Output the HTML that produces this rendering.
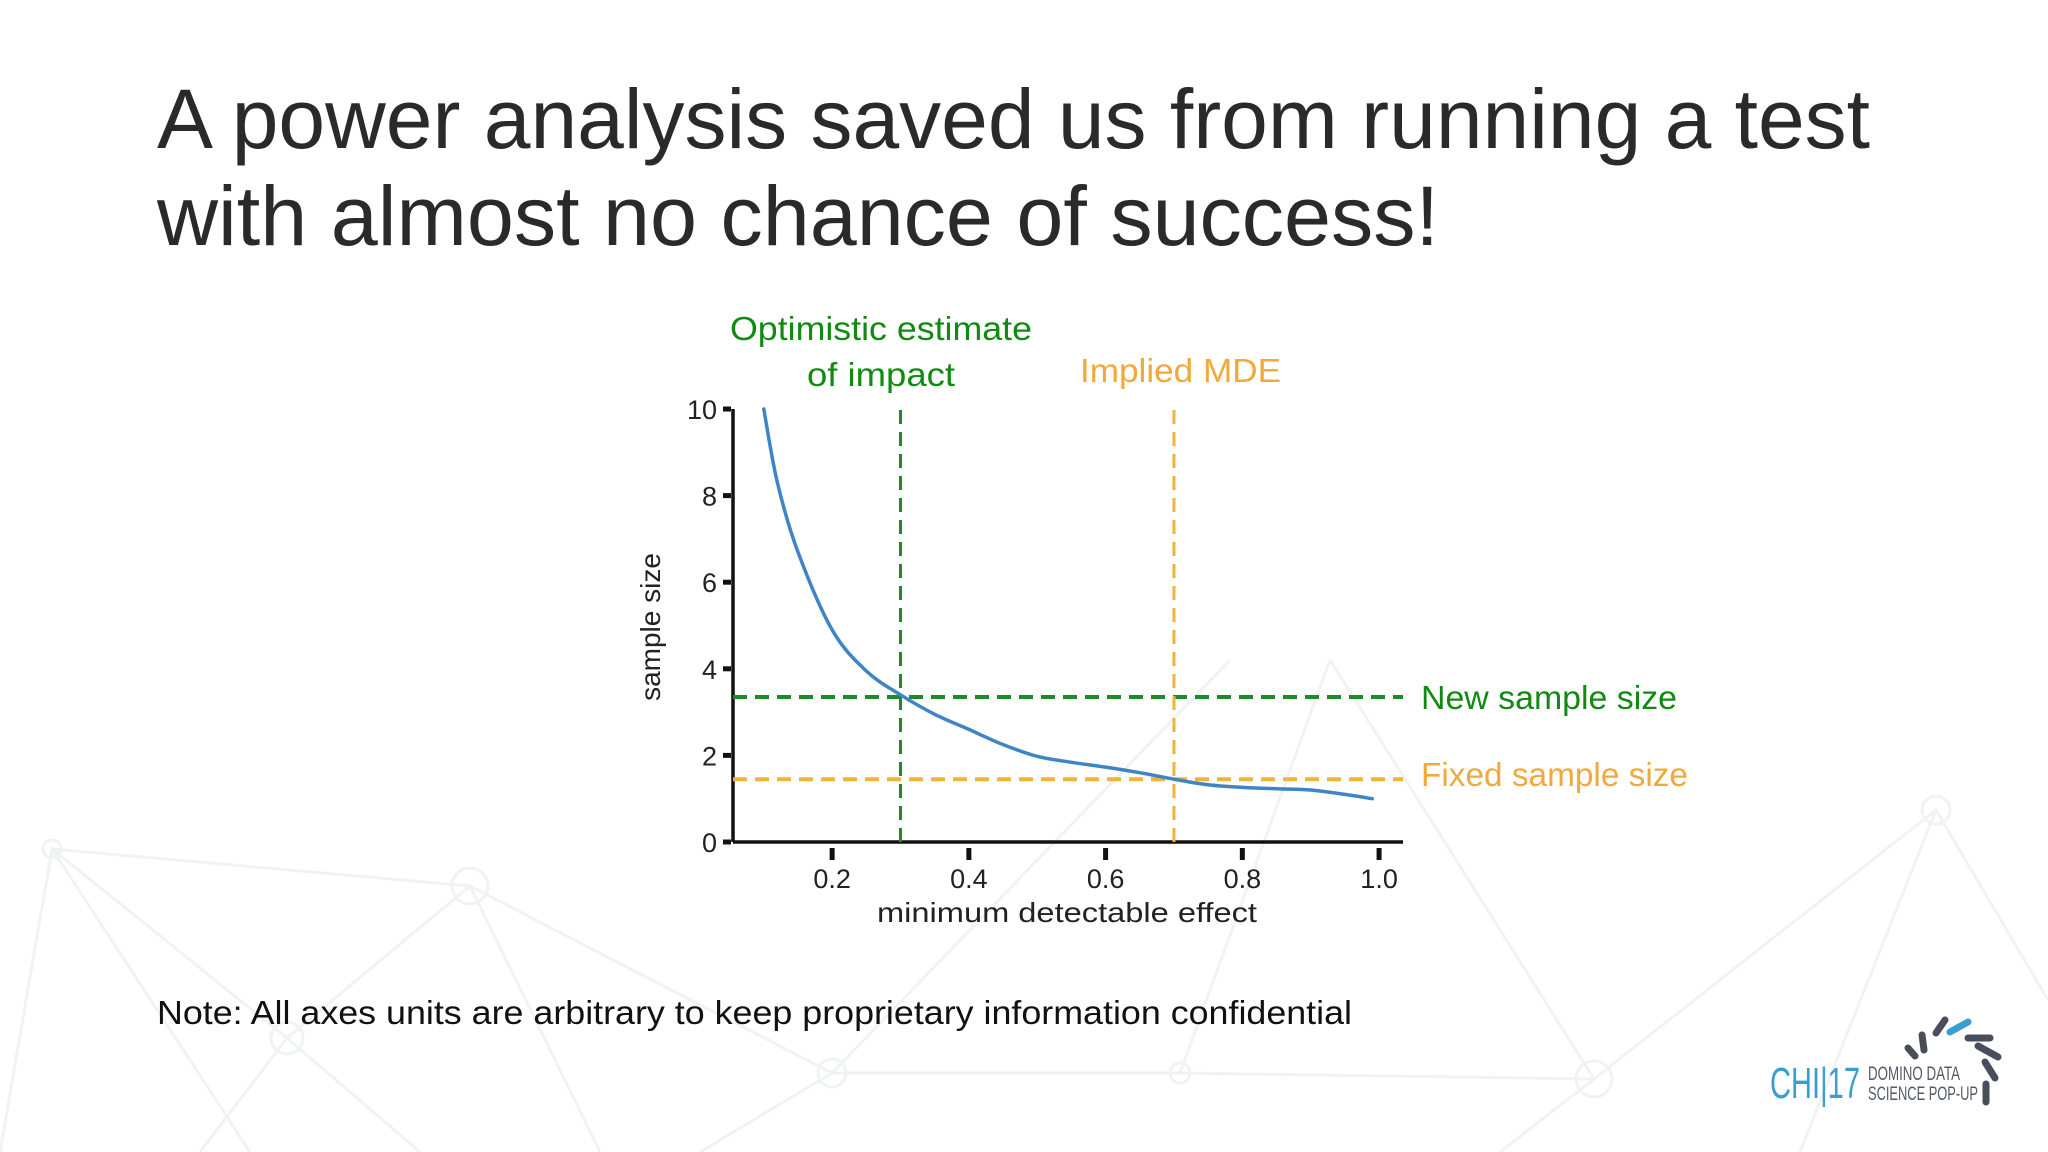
<!DOCTYPE html>
<html><head><meta charset="utf-8"><style>
html,body{margin:0;padding:0;background:#fff;width:2048px;height:1152px;overflow:hidden}
svg{display:block}
text{font-family:"Liberation Sans",sans-serif}
</style></head><body>
<svg id="s" width="2048" height="1152" viewBox="0 0 2048 1152">
<g stroke="#f1f2f4" stroke-width="3" fill="none">
<path d="M52 849 L470 886 L287 1038 L52 849 L0 1152 M470 886 L832 1073 L1180 1073 L1594 1079 L1936 810 L2048 1000 M470 886 L287 1038 L200 1152 M470 886 L600 1152 M832 1073 L700 1152 M832 1073 L1230 660 M1180 1073 L1330 660 M1594 1079 L1330 660 M1594 1079 L1500 1152 M1936 810 L1800 1152 M52 849 L250 1152 M287 1038 L420 1152"/>
<circle cx="52" cy="849" r="9"/><circle cx="470" cy="886" r="18"/><circle cx="287" cy="1038" r="16"/><circle cx="832" cy="1073" r="14"/><circle cx="1180" cy="1073" r="10"/><circle cx="1594" cy="1079" r="18"/><circle cx="1936" cy="810" r="14"/>
</g>
<text x="157" y="148" font-size="84" fill="#2a2a2a" textLength="1713" lengthAdjust="spacingAndGlyphs">A power analysis saved us from running a test</text>
<text x="157" y="245" font-size="84" fill="#2a2a2a" textLength="1282" lengthAdjust="spacingAndGlyphs">with almost no chance of success!</text>

<text x="881" y="340" font-size="33" fill="#108a10" text-anchor="middle" textLength="302" lengthAdjust="spacingAndGlyphs">Optimistic estimate</text>
<text x="881" y="386" font-size="33" fill="#108a10" text-anchor="middle" textLength="148" lengthAdjust="spacingAndGlyphs">of impact</text>
<text x="1080" y="382" font-size="33" fill="#f2a93b" textLength="201" lengthAdjust="spacingAndGlyphs">Implied MDE</text>
<text x="1421" y="709" font-size="33" fill="#108a10" textLength="256" lengthAdjust="spacingAndGlyphs">New sample size</text>
<text x="1421" y="786" font-size="33" fill="#f2a93b" textLength="267" lengthAdjust="spacingAndGlyphs">Fixed sample size</text>

<g id="chart"></g>

<text x="157" y="1024" font-size="33" fill="#111" textLength="1195" lengthAdjust="spacingAndGlyphs">Note: All axes units are arbitrary to keep proprietary information confidential</text>

<g>
<text x="1770" y="1098" font-size="44" fill="#3a9fd0" textLength="90" lengthAdjust="spacingAndGlyphs">CHI|17</text>
<text x="1868" y="1080" font-size="19" fill="#555a66" textLength="92" lengthAdjust="spacingAndGlyphs">DOMINO DATA</text>
<text x="1868" y="1100" font-size="19" fill="#555a66" textLength="110" lengthAdjust="spacingAndGlyphs">SCIENCE POP-UP</text>
<g stroke-linecap="round" stroke-width="7" stroke="#4a4e5a">
<line x1="1908" y1="1048" x2="1915" y2="1056"/><line x1="1922" y1="1035" x2="1924" y2="1050"/><line x1="1936" y1="1033" x2="1945" y2="1020"/>
<line x1="1950" y1="1032" x2="1968" y2="1022" stroke="#3a9fd0"/><line x1="1968" y1="1038" x2="1990" y2="1038"/><line x1="1978" y1="1046" x2="1998" y2="1057"/><line x1="1985" y1="1062" x2="1995" y2="1078"/><line x1="1986" y1="1084" x2="1986" y2="1102"/>
</g></g>
</svg>
<script>
const xTicks=[0.2,0.4,0.6,0.8,1.0];
const xTickLabels=["0.2","0.4","0.6","0.8","1.0"];
const yTicks=[0,2,4,6,8,10];
const yTickLabels=["0","2","4","6","8","10"];
const curveX=[0.1,0.12,0.15,0.2,0.25,0.3,0.35,0.4,0.45,0.5,0.55,0.6,0.65,0.7,0.75,0.8,0.85,0.9,0.95,0.99];
const curveY=[10,8.3,6.7,4.9,3.95,3.4,2.95,2.6,2.25,1.98,1.84,1.73,1.6,1.45,1.32,1.26,1.23,1.2,1.1,1.0];
const newSampleSize=[3.35];
const fixedSampleSize=[1.45];
const optimisticX=[0.3];
const impliedMdeX=[0.7];
const xDomain=[0.055,1.035];
const yDomain=[0,10];

const NS="http://www.w3.org/2000/svg";
const g=document.getElementById('chart');
const X0=733,X1=1403,Y0=842,Y1=409;
function sx(v){return X0+(v-xDomain[0])/(xDomain[1]-xDomain[0])*(X1-X0);}
function sy(v){return Y0-(v-yDomain[0])/(yDomain[1]-yDomain[0])*(Y0-Y1);}
function mk(tag,attrs){const e=document.createElementNS(NS,tag);for(const k in attrs)e.setAttribute(k,attrs[k]);g.appendChild(e);return e;}

let e=mk('line',{x1:X0,y1:Y0,x2:X0,y2:Y1,stroke:'#111','stroke-width':3.5});


e=mk('line',{x1:X0,y1:Y0,x2:X1,y2:Y0,stroke:'#111','stroke-width':3.5});



yTicks.forEach((t,i)=>{
 let tk=mk('line',{x1:X0-10,y1:sy(t),x2:X0-2,y2:sy(t),stroke:'#111','stroke-width':5});
 
 
 let tx=mk('text',{x:X0-16,y:sy(t)+10,'font-size':27,fill:'#222','text-anchor':'end'});
 tx.textContent=yTickLabels[i];
 
 
});
xTicks.forEach((t,i)=>{
 let tk=mk('line',{x1:sx(t),y1:Y0+6,x2:sx(t),y2:Y0+18,stroke:'#111','stroke-width':5});
 
 
 let tx=mk('text',{x:sx(t),y:888,'font-size':27,fill:'#222','text-anchor':'middle'});
 tx.textContent=xTickLabels[i];
 
 
});
let xt=mk('text',{x:1067,y:922,'font-size':28,fill:'#222','text-anchor':'middle',textLength:380,lengthAdjust:'spacingAndGlyphs'});
xt.textContent='minimum detectable effect';


let yt=mk('text',{x:0,y:0,'font-size':28,fill:'#222','text-anchor':'middle',transform:'translate(660,627) rotate(-90)'});
yt.textContent='sample size';



function hline(v,color,name){
 let l=mk('line',{x1:X0,y1:sy(v),x2:X1,y2:sy(v),stroke:color,'stroke-width':4,'stroke-dasharray':'14 8'});
 
 
}
function vline(v,color,name){
 let l=mk('line',{x1:sx(v),y1:sy(0),x2:sx(v),y2:sy(10),stroke:color,'stroke-width':3,'stroke-dasharray':'14 8'});
 
 
}
hline(newSampleSize[0],'#1e8a2a','new-sample-size-line');
hline(fixedSampleSize[0],'#f3b23a','fixed-sample-size-line');
vline(optimisticX[0],'#1e8a2a','optimistic-estimate-line');
vline(impliedMdeX[0],'#f3b23a','implied-mde-line');

const P=curveX.map((x,i)=>[sx(x),sy(curveY[i])]);
let d='M'+P[0][0].toFixed(1)+' '+P[0][1].toFixed(1);
for(let i=0;i<P.length-1;i++){
 const p0=P[Math.max(0,i-1)],p1=P[i],p2=P[i+1],p3=P[Math.min(P.length-1,i+2)];
 const c1=[p1[0]+(p2[0]-p0[0])/6,p1[1]+(p2[1]-p0[1])/6];
 const c2=[p2[0]-(p3[0]-p1[0])/6,p2[1]-(p3[1]-p1[1])/6];
 d+=' C'+c1[0].toFixed(1)+' '+c1[1].toFixed(1)+' '+c2[0].toFixed(1)+' '+c2[1].toFixed(1)+' '+p2[0].toFixed(1)+' '+p2[1].toFixed(1);
}
let c=mk('path',{d:d,fill:'none',stroke:'#3f84c4','stroke-width':3.5,'stroke-linejoin':'round','stroke-linecap':'round'});


</script>
</body></html>
